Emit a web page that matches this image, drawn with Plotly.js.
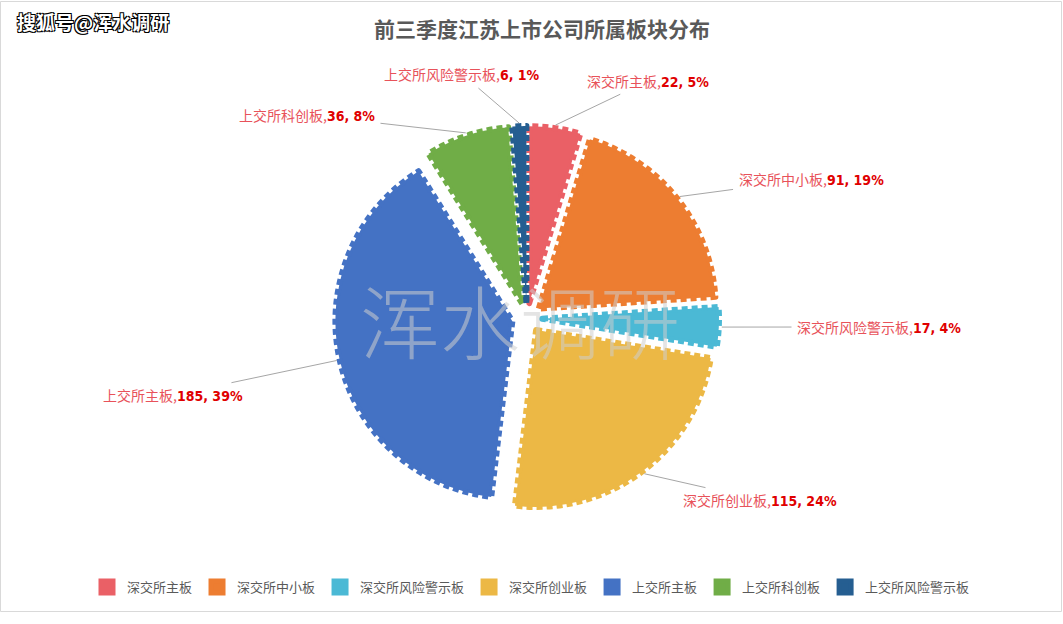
<!DOCTYPE html>
<html>
<head>
<meta charset="utf-8">
<script src="https://cdn.plot.ly/plotly-3.0.1.min.js"></script>
<style>
  html, body { margin: 0; padding: 0; background: #fff; }
  #chart { width: 1063px; height: 624px; }
  .slice path.surface { stroke-dasharray: 6 4; }
</style>
</head>
<body>
<div id="chart"></div>
<script>
// ---- data ----
const categories = ['深交所主板', '深交所中小板', '深交所风险警示板', '深交所创业板', '上交所主板', '上交所科创板', '上交所风险警示板'];
const counts = [22, 91, 17, 115, 185, 36, 6];
const sliceColors = ['#EA6066', '#ED7D31', '#4BB9D5', '#ECB845', '#4472C4', '#70AD47', '#255E91'];

// ---- layout constants ----
const W = 1063, H = 624;
const pull = 0.085;
const domX = [0.3152, 0.6764];
const domY = [0.1827, 0.7981];
// label text centres (px), layout only
const labelPos = [[648, 81], [811, 179], [879, 327], [760, 500], [173, 395], [307, 115], [462, 74]];

const total = counts.reduce((a, b) => a + b, 0);
const bw = W * (domX[1] - domX[0]), bh = H * (domY[1] - domY[0]);
const r = Math.min(bw, bh) / (2 + 2 * pull);
const cx = W * (domX[0] + domX[1]) / 2;
const cy = H * (1 - (domY[0] + domY[1]) / 2);

const numStyle = "font-family:'Liberation Sans Narrow','DejaVu Sans Condensed','DejaVu Sans',sans-serif;font-stretch:condensed;color:#E00000";

const annotations = [];
let cum = 0;
counts.forEach((v, i) => {
  const mid = (cum + v / 2) / total * 2 * Math.PI;
  cum += v;
  const dist = r * (1 + pull) + 3;
  const tx = cx + dist * Math.sin(mid);
  const ty = cy - dist * Math.cos(mid);
  const pct = Math.round(v / total * 100);
  annotations.push({
    xref: 'paper', yref: 'paper',
    x: tx / W, y: 1 - ty / H,
    ax: labelPos[i][0] - tx, ay: labelPos[i][1] - ty,
    showarrow: true, arrowhead: 0, arrowwidth: 1, arrowcolor: '#A6A6A6',
    standoff: 0, startstandoff: 4,
    text: '<span style="color:#E8525A">' + categories[i] + ',</span>' +
          '<span style="' + numStyle + '"><b>' + v + ', ' + pct + '%</b></span>',
    font: { family: 'Noto Sans CJK SC, sans-serif', size: 14, color: '#E8525A' }
  });
});

// watermarks
annotations.push({
  xref: 'paper', yref: 'paper', x: 520 / W, y: 1 - 318 / H,
  xanchor: 'center', yanchor: 'middle', showarrow: false,
  text: '浑水调研',
  font: { family: 'Noto Sans CJK SC, sans-serif', size: 80, color: 'rgba(205,205,205,0.55)', weight: 300 }
});
annotations.push({
  xref: 'paper', yref: 'paper', x: 15 / W, y: 1 - 22 / H,
  xanchor: 'left', yanchor: 'middle', showarrow: false,
  text: '搜狐号@浑水调研',
  font: { family: 'Noto Sans CJK SC, sans-serif', size: 19, color: '#ffffff', weight: 700,
          shadow: '-1px -1px 0 #000, 1px -1px 0 #000, -1px 1px 0 #000, 1px 1px 0 #000' }
});

const trace = {
  type: 'pie',
  labels: categories,
  values: counts,
  sort: false,
  direction: 'clockwise',
  rotation: 0,
  pull: pull,
  domain: { x: domX, y: domY },
  marker: { colors: sliceColors, line: { color: sliceColors, width: 6 } },
  textinfo: 'none',
  hoverinfo: 'none'
};

const layout = {
  width: W, height: H,
  margin: { l: 0, r: 0, t: 0, b: 0 },
  paper_bgcolor: '#ffffff',
  title: {
    text: '<b>前三季度江苏上市公司所属板块分布</b>',
    x: 542 / W, xanchor: 'center', y: 1 - 30 / H, yanchor: 'middle',
    font: { family: 'Noto Sans CJK SC, sans-serif', size: 21, color: '#595959' }
  },
  showlegend: true,
  legend: {
    orientation: 'h', x: 531 / W, xanchor: 'center', y: 1 - 587 / H, yanchor: 'middle',
    font: { family: 'Noto Sans CJK SC, sans-serif', size: 13, color: '#595959' },
    traceorder: 'normal', itemwidth: 30
  },
  annotations: annotations,
  shapes: [{
    type: 'rect', xref: 'paper', yref: 'paper',
    x0: 0.5 / W, x1: 1061.5 / W, y0: 1 - 611.5 / H, y1: 1 - 1.5 / H,
    line: { color: '#D9D9D9', width: 1 }, fillcolor: 'rgba(0,0,0,0)', layer: 'below'
  }]
};

Plotly.newPlot('chart', [trace], layout, { displayModeBar: false, staticPlot: true });
</script>
</body>
</html>
